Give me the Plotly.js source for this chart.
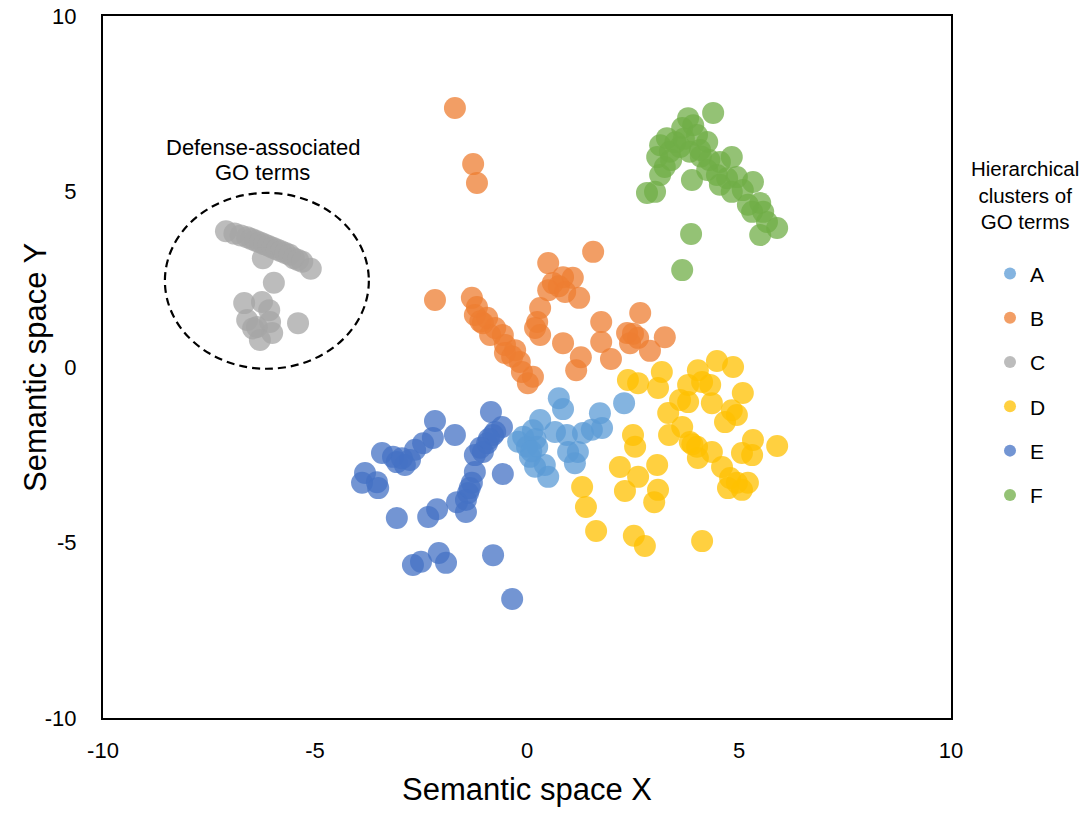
<!DOCTYPE html>
<html>
<head>
<meta charset="utf-8">
<script src="https://cdn.plot.ly/plotly-3.0.1.min.js"></script>
<style>html,body{margin:0;padding:0;background:#fff;}#chart{width:1091px;height:814px;}</style>
</head>
<body>
<div id="chart"></div>
<script>
// Cluster names
var clusterNames = ["A", "B", "C", "D", "E", "F"];

// Tick values and labels
var tickVals = [-10, -5, 0, 5, 10];
var tickLabels = ["-10", "-5", "0", "5", "10"];

// Cluster A (light blue)
var aX = [0.75, 0.85, 0.31, 1.72, 2.29, -0.21, 0.14, 0.24, 0.07, 0.19, 0.50, 0.42, 0.66, 0.94, 0.97, 1.20, 1.13, 1.32, 1.53, 1.77, 0.00, -0.09, 0.20, 0.10];
var aY = [-0.89, -1.20, -1.51, -1.32, -1.03, -2.13, -1.80, -2.27, -2.56, -2.84, -3.13, -2.79, -1.85, -1.94, -2.42, -2.42, -2.74, -1.88, -1.79, -1.74, -2.27, -1.99, -2.05, -2.40];

// Cluster B (orange)
var bX = [-1.70, -1.27, -1.18, -2.17, -1.30, -1.18, -1.23, -1.04, -0.87, -0.57, -0.52, -0.28, -0.17, -0.12, 0.02, 0.14, -0.52, -0.94, -0.75, -1.10, -0.35,
          0.50, 0.50, 0.61, 0.85, 1.08, 0.90, 1.23, 1.56, 0.31, 0.24, 0.19, 0.31, 0.85, 1.27, 1.16, 1.75, 1.75, 1.98, 2.36, 2.43, 2.67, 2.62, 2.90, 3.25, 2.50, 0.75];
var bY = [7.38, 5.78, 5.24, 1.91, 1.97, 1.71, 1.48, 1.25, 0.91, 0.91, 0.63, 0.48, 0.14, -0.14, -0.46, -0.28, 0.40, 1.40, 1.11, 1.30, 0.30,
          2.96, 2.19, 2.39, 2.56, 2.54, 2.14, 1.97, 3.28, 1.68, 1.28, 1.11, 0.91, 0.68, 0.28, -0.09, 1.28, 0.71, 0.23, 0.97, 0.68, 1.54, 0.83, 0.46, 0.85, 0.95, 2.30];

// Cluster C (gray)
var cX = [-7.10, -6.90, -6.75, -6.60, -6.50, -6.40, -6.30, -6.20, -6.10, -6.00, -5.90, -5.80, -5.70, -5.60, -5.50, -5.40, -5.30, -5.10, -6.23,
          -5.97, -6.67, -6.25, -6.08, -6.60, -6.37, -6.06, -6.01, -6.30, -6.46, -5.40];
var cY = [3.87, 3.80, 3.75, 3.70, 3.65, 3.60, 3.55, 3.50, 3.45, 3.40, 3.35, 3.30, 3.25, 3.20, 3.10, 3.05, 3.00, 2.80, 3.10,
          2.40, 1.82, 1.85, 1.62, 1.34, 1.14, 1.28, 0.97, 0.77, 1.10, 1.25];

// Cluster D (gold)
var dX = [2.38, 2.62, 3.18, 3.09, 3.80, 4.03, 4.13, 4.32, 4.48, 4.86, 5.09, 3.61, 3.80, 4.36, 4.83, 4.95, 4.67, 3.33, 3.66, 3.35, 3.84, 4.01, 4.03, 4.36,
          4.60, 4.79, 4.74, 5.07, 5.21, 5.31, 5.07, 5.33, 5.90, 2.50, 2.55, 3.07, 2.19, 2.62, 2.31, 3.09, 3.00, 1.30, 1.39, 1.63, 2.52, 2.78, 4.13, 3.90, 4.95];
var dY = [-0.37, -0.46, -0.14, -0.60, -0.51, -0.09, -0.43, -0.51, 0.17, 0.00, -0.74, -0.94, -1.00, -1.03, -1.23, -1.37, -1.57, -1.31, -1.71, -1.94, -2.14, -2.27, -2.59, -2.42,
          -2.85, -3.16, -3.45, -3.50, -3.30, -2.51, -2.45, -2.08, -2.25, -1.94, -2.27, -2.79, -2.85, -3.13, -3.53, -3.50, -3.85, -3.42, -3.99, -4.67, -4.81, -5.10, -4.96, -2.20, -3.30];

// Cluster E (blue)
var eX = [-2.17, -1.70, -2.22, -2.45, -2.64, -3.42, -3.16, -2.88, -2.76, -3.07, -3.82, -3.89, -3.54, -3.51, -3.07, -2.33, -2.12, -2.69, -2.50, -2.08, -1.91, -0.80, -0.35,
          -0.85, -0.59, -0.80, -0.94, -1.04, -1.23, -1.23, -0.57, -1.30, -1.39, -1.44, -1.65, -1.44, -0.75, -0.90, -1.10, -1.35, -2.95];
var eY = [-1.54, -1.94, -2.02, -2.17, -2.36, -2.45, -2.56, -2.79, -2.65, -2.71, -3.02, -3.30, -3.28, -3.45, -4.30, -4.27, -4.05, -5.64, -5.55, -5.30, -5.58, -5.36, -6.61,
          -1.28, -1.71, -1.94, -2.17, -2.42, -2.51, -2.99, -3.05, -3.30, -3.59, -3.79, -3.85, -4.13, -1.85, -2.05, -2.30, -3.45, -2.60];

// Cluster F (green)
var fX = [4.39, 3.80, 3.92, 3.66, 4.01, 4.25, 3.30, 3.14, 3.37, 3.61, 3.84, 4.08, 3.07, 3.25, 3.14, 2.83, 3.02, 3.89, 4.25, 4.55, 4.83, 4.48, 4.72, 4.55, 4.95,
          4.83, 5.09, 5.33, 5.50, 5.31, 5.66, 5.90, 5.50, 5.57, 5.21, 3.87, 3.66, 3.50, 3.70, 4.10, 3.40, 4.30];
var fY = [7.24, 7.09, 6.89, 6.81, 6.61, 6.41, 6.52, 6.32, 6.13, 6.27, 6.13, 6.18, 5.98, 5.70, 5.47, 4.96, 4.99, 5.33, 5.61, 5.84, 5.98, 5.47, 5.38, 5.19, 5.41,
          4.99, 5.04, 5.27, 4.67, 4.42, 4.13, 3.96, 3.76, 4.42, 4.62, 3.79, 2.76, 6.40, 6.50, 6.00, 5.90, 5.90];

var colors = ["#5B9BD5", "#ED7D31", "#A5A5A5", "#FFC000", "#4472C4", "#70AD47"];
var xs = [aX, bX, cX, dX, eX, fX];
var ys = [aY, bY, cY, dY, eY, fY];

var FONT = "Arial, 'Liberation Sans', sans-serif";

var traces = clusterNames.map(function (name, i) {
  return {
    type: "scatter",
    mode: "markers",
    name: name,
    legendgroup: name,
    x: xs[i],
    y: ys[i],
    marker: { color: colors[i], size: 22, opacity: 0.75, line: { width: 0 } },
    hoverinfo: "x+y+name"
  };
});

function axisCommon(ticklen) {
  return {
    range: [-10, 10],
    tickmode: "array",
    tickvals: tickVals,
    ticktext: tickLabels,
    showgrid: false,
    zeroline: false,
    showline: true,
    mirror: true,
    linecolor: "#000000",
    linewidth: 2,
    ticks: "outside",
    ticklen: ticklen,
    tickcolor: "rgba(0,0,0,0)",
    tickfont: { family: FONT, size: 22, color: "#000000" },
    automargin: false
  };
}

var xaxis = axisCommon(12);
xaxis.title = { text: "Semantic space X", font: { family: FONT, size: 31, color: "#000000" }, standoff: 16 };
var yaxis = axisCommon(20);

var layout = {
  width: 1091,
  height: 814,
  paper_bgcolor: "#ffffff",
  plot_bgcolor: "#ffffff",
  margin: { l: 103, r: 140, t: 16, b: 96, pad: 0 },
  font: { family: FONT, color: "#000000", size: 22 },
  xaxis: xaxis,
  yaxis: yaxis,
  showlegend: true,
  legend: {
    x: 1.046,
    xanchor: "left",
    y: 0.662,
    yanchor: "top",
    traceorder: "grouped",
    tracegroupgap: 14,
    itemsizing: "constant",
    font: { family: FONT, size: 21, color: "#000000" },
    bgcolor: "rgba(0,0,0,0)"
  },
  shapes: [{
    type: "circle",
    xref: "x", yref: "y",
    x0: -8.54, x1: -3.73, y0: -0.05, y1: 4.96,
    line: { color: "#000000", width: 2.2, dash: "8px,5px" },
    fillcolor: "rgba(0,0,0,0)",
    layer: "above"
  }],
  annotations: [
    {
      xref: "x", yref: "y", x: -6.23, y: 6.25,
      text: "Defense-associated", showarrow: false,
      xanchor: "center", yanchor: "middle",
      font: { family: FONT, size: 22, color: "#000000" }
    },
    {
      xref: "x", yref: "y", x: -6.23, y: 5.53,
      text: "GO terms", showarrow: false,
      xanchor: "center", yanchor: "middle",
      font: { family: FONT, size: 22, color: "#000000" }
    },
    {
      xref: "paper", yref: "paper", x: -0.0802, y: 0.5,
      text: "Semantic space Y", showarrow: false, textangle: -90,
      xanchor: "center", yanchor: "middle",
      font: { family: FONT, size: 31, color: "#000000" }
    },
    {
      xref: "paper", yref: "paper", x: 1.0873, y: 0.7445,
      text: "Hierarchical<br>clusters of<br>GO terms", showarrow: false, align: "center",
      xanchor: "center", yanchor: "middle",
      font: { family: FONT, size: 20.5, color: "#000000" }
    }
  ]
};

Plotly.newPlot("chart", traces, layout, { displayModeBar: false, staticPlot: true });
</script>
</body>
</html>
